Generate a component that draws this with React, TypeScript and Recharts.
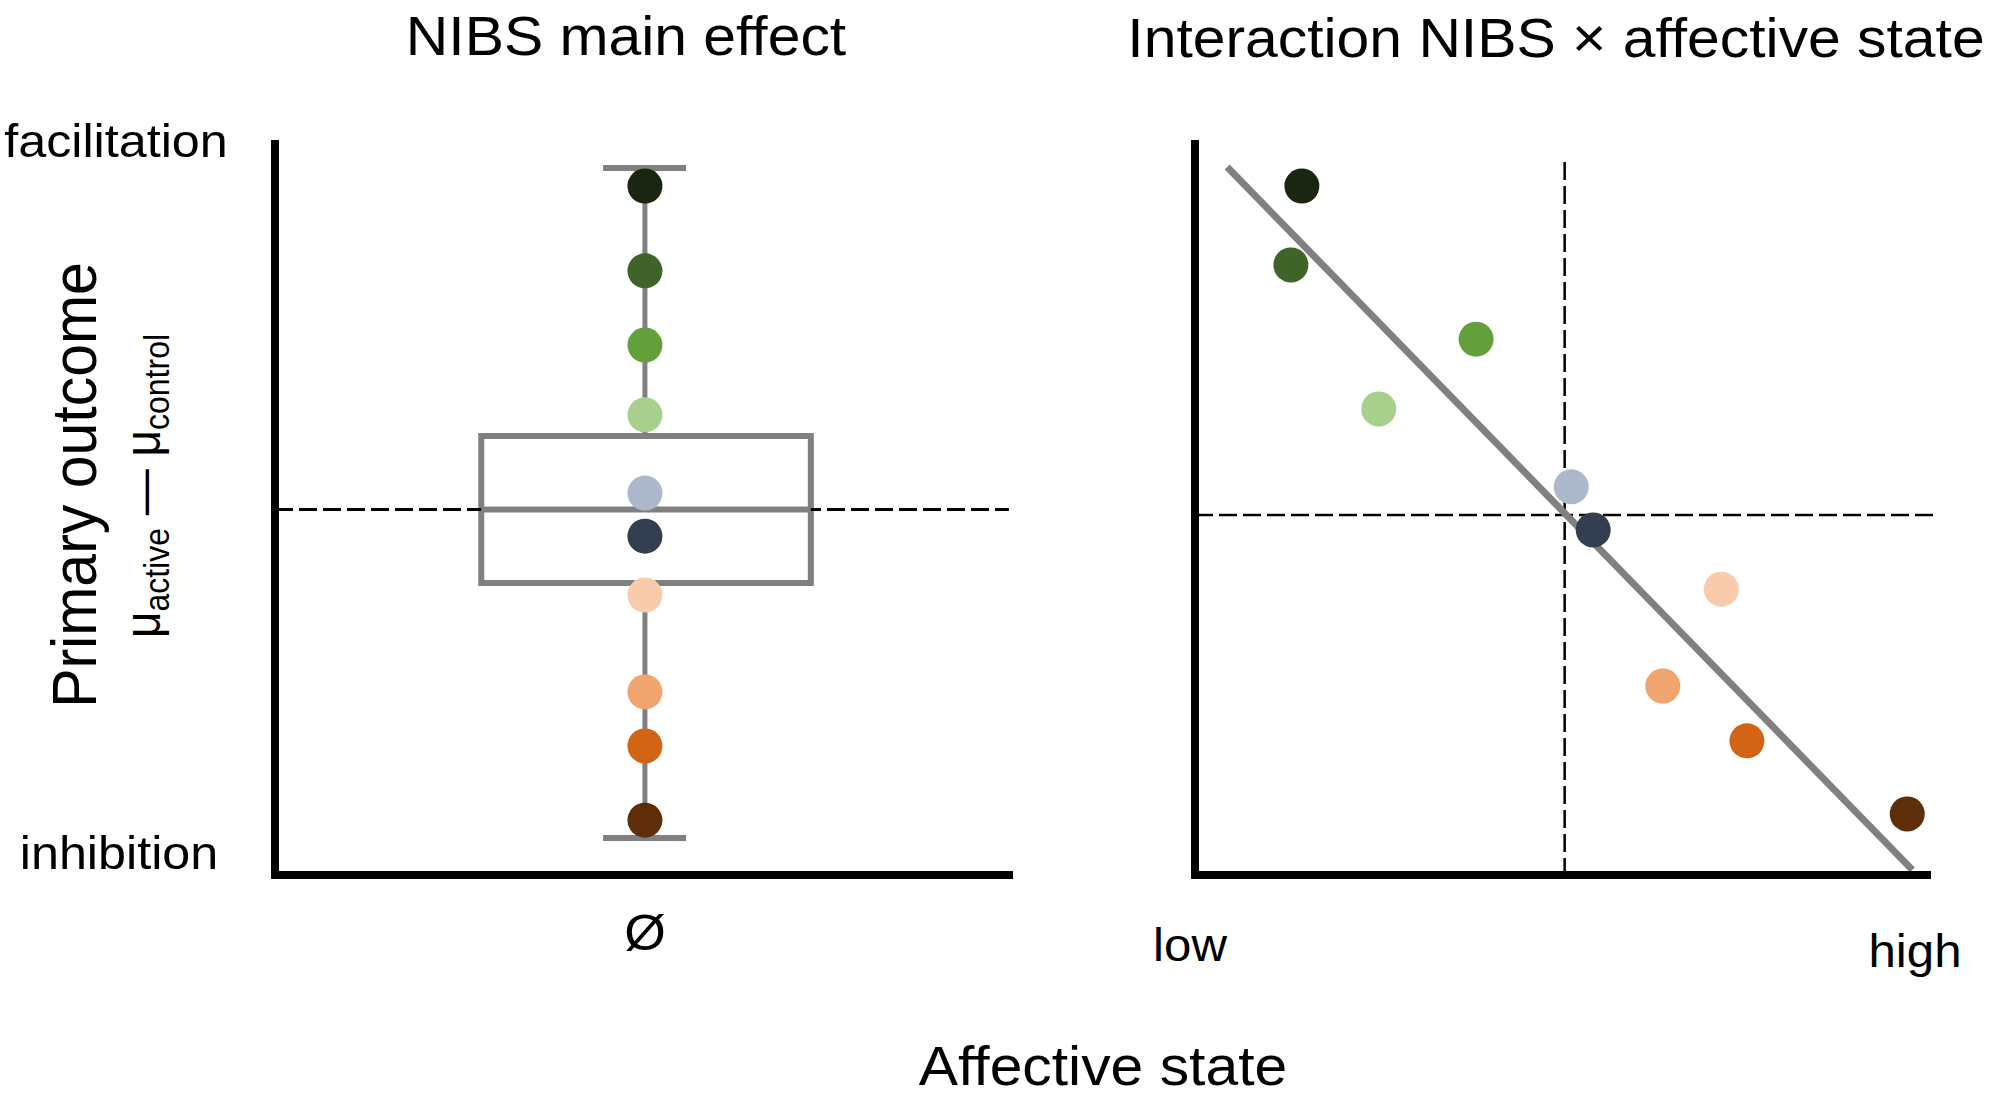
import { ComposedChart, ReferenceArea, ReferenceLine, Scatter, XAxis, YAxis } from "recharts";

// one colour per study, from strongest facilitation to strongest inhibition
const DOT_COLORS = ["#1b2612", "#3f6328", "#63a03c", "#a8cf8c", "#adb9ca", "#333f50", "#f8cbad", "#f0a46f", "#d26515", "#5e2e0b"];

// left panel: NIBS main effect, all studies at the single category Ø
const MAIN_X = 5.04;
const MAIN_Y = [0.885, 0.653, 0.45, 0.259, 0.045, -0.073, -0.234, -0.499, -0.647, -0.85];
const BOX_X = [2.81, 7.3];
const BOX_Q = [-0.201, 0, 0.201]; // q1, median, q3
const WHISKER_Y = [-0.899, 0.934];
const CAP_X = [4.47, 5.6];

// right panel: interaction NIBS x affective state
const AFFECT_X = [1.46, 1.31, 3.84, 2.51, 5.14, 5.44, 7.19, 6.39, 7.54, 9.73];
const AFFECT_Y = [0.885, 0.669, 0.466, 0.275, 0.062, -0.056, -0.218, -0.483, -0.633, -0.833];
const FIT_X = [0.44, 9.8];
const FIT_Y = [0.937, -0.986];
const MID_X = 5.05;
const RIGHT_ZERO_Y = -0.015;

const X_TICKS = ["low", "high"];
const Y_TICKS = ["facilitation", "inhibition"];

const FONT = "'Liberation Sans', Arial, sans-serif";
const GREY = "#808080";
const STRETCH = 1.07;

const mainData = MAIN_Y.map((y, i) => ({ x: MAIN_X, y, color: DOT_COLORS[i] }));
const affectData = AFFECT_X.map((x, i) => ({ x, y: AFFECT_Y[i], color: DOT_COLORS[i] }));

const axisLine = { stroke: "#000", strokeWidth: 8, strokeLinecap: "square" as const };

function Dot(props: any) {
	const { cx, cy, payload } = props;
	return <circle cx={cx} cy={cy} r={17.5} fill={payload.color} />;
}

function Label({ x, y, size, children, rotate }: { x: number; y: number; size: number; children: any; rotate?: boolean }) {
	return (
		<text
			transform={`translate(${x},${y}) scale(${STRETCH},1)${rotate ? " rotate(-90)" : ""}`}
			textAnchor="middle"
			fontSize={size}
			fontFamily={FONT}
			fill="#000"
		>
			{children}
		</text>
	);
}

export default function App() {
	return (
		<div style={{ position: "absolute", left: 0, top: 0, width: 2000, height: 1097, background: "#fff" }}>
			<div style={{ position: "absolute", left: 0, top: 0 }}>
				<ComposedChart width={1100} height={1097} data={mainData} margin={{ top: 144, right: 91, bottom: 221, left: 274 }}>
					<XAxis type="number" dataKey="x" domain={[0, 10]} allowDataOverflow height={1} tick={false} tickLine={false} axisLine={axisLine} />
					<YAxis type="number" dataKey="y" domain={[-1, 1]} allowDataOverflow width={1} tick={false} tickLine={false} axisLine={axisLine} />
					<ReferenceLine y={0} stroke="#000" strokeWidth={3} strokeDasharray="18 6" />
					<ReferenceArea x1={BOX_X[0]} x2={BOX_X[1]} y1={BOX_Q[0]} y2={BOX_Q[2]} fill="none" fillOpacity={0} stroke={GREY} strokeWidth={6} />
					<ReferenceLine segment={[{ x: BOX_X[0], y: BOX_Q[1] }, { x: BOX_X[1], y: BOX_Q[1] }]} stroke={GREY} strokeWidth={6} />
					<ReferenceLine segment={[{ x: MAIN_X, y: BOX_Q[2] }, { x: MAIN_X, y: WHISKER_Y[1] }]} stroke={GREY} strokeWidth={5} />
					<ReferenceLine segment={[{ x: MAIN_X, y: BOX_Q[0] }, { x: MAIN_X, y: WHISKER_Y[0] }]} stroke={GREY} strokeWidth={5} />
					<ReferenceLine segment={[{ x: CAP_X[0], y: WHISKER_Y[1] }, { x: CAP_X[1], y: WHISKER_Y[1] }]} stroke={GREY} strokeWidth={6} />
					<ReferenceLine segment={[{ x: CAP_X[0], y: WHISKER_Y[0] }, { x: CAP_X[1], y: WHISKER_Y[0] }]} stroke={GREY} strokeWidth={6} />
					<Scatter data={mainData} dataKey="y" shape={Dot} isAnimationActive={false} />
				</ComposedChart>
			</div>
			<div style={{ position: "absolute", left: 1100, top: 0 }}>
				<ComposedChart width={900} height={1097} data={affectData} margin={{ top: 144, right: 73, bottom: 221, left: 94 }}>
					<XAxis type="number" dataKey="x" domain={[0, 10]} allowDataOverflow height={1} tick={false} tickLine={false} axisLine={axisLine} />
					<YAxis type="number" dataKey="y" domain={[-1, 1]} allowDataOverflow width={1} tick={false} tickLine={false} axisLine={axisLine} />
					<ReferenceLine segment={[{ x: 0, y: RIGHT_ZERO_Y }, { x: 10.1, y: RIGHT_ZERO_Y }]} ifOverflow="visible" stroke="#000" strokeWidth={2.5} strokeDasharray="18 6" />
					<ReferenceLine segment={[{ x: MID_X, y: 0.951 }, { x: MID_X, y: -1 }]} stroke="#000" strokeWidth={2.5} strokeDasharray="18 6" />
					<ReferenceLine segment={[{ x: FIT_X[0], y: FIT_Y[0] }, { x: FIT_X[1], y: FIT_Y[1] }]} stroke={GREY} strokeWidth={7} />
					<Scatter data={affectData} dataKey="y" shape={Dot} isAnimationActive={false} />
				</ComposedChart>
			</div>
			<svg width={2000} height={1097} style={{ position: "absolute", left: 0, top: 0, pointerEvents: "none" }}>
				<Label x={626} y={55} size={55}>NIBS main effect</Label>
				<Label x={1556} y={57} size={55}>Interaction NIBS × affective state</Label>
				<Label x={116} y={157} size={47}>{Y_TICKS[0]}</Label>
				<Label x={119} y={869} size={47}>{Y_TICKS[1]}</Label>
				<Label x={645} y={950} size={50}>Ø</Label>
				<Label x={1190} y={961} size={46}>{X_TICKS[0]}</Label>
				<Label x={1915} y={967} size={46}>{X_TICKS[1]}</Label>
				<Label x={1103} y={1085} size={55}>Affective state</Label>
				<Label x={96} y={485} size={59} rotate>Primary outcome</Label>
				<Label x={160} y={486} size={46} rotate>
					μ<tspan fontSize={32} dy={8}>active</tspan>
					<tspan dy={-8}> — μ</tspan>
					<tspan fontSize={32} dy={8}>control</tspan>
				</Label>
			</svg>
		</div>
	);
}
